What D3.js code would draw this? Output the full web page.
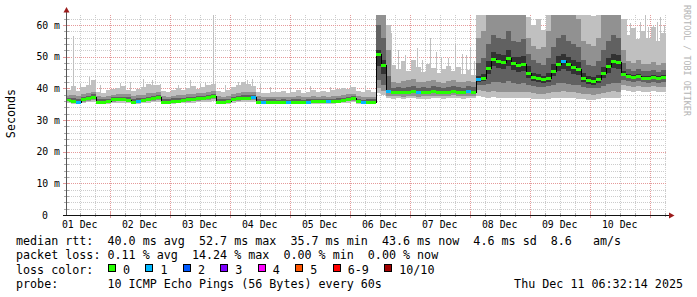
<!DOCTYPE html>
<html><head><meta charset="utf-8">
<script src="https://cdn.jsdelivr.net/npm/d3@7"></script>
<style>
html,body{margin:0;padding:0;background:#fff;}
svg{display:block;}
text{font-family:"DejaVu Sans Mono",monospace;white-space:pre;}
</style></head><body>
<svg id="chart" width="697" height="297"></svg>
<script>
// ---- data ----
const startTime = Date.UTC(2025, 11, 1, 6, 32, 14);
const endTime = Date.UTC(2025, 11, 11, 6, 32, 14);
const stepHours = 2;
const med = [
36.2,36.0,35.7,36.6,37.0,37.4,35.8,35.8,35.9,36.5,
36.6,36.6,36.4,35.8,36.0,36.3,36.6,36.8,37.3,35.8,
35.8,36.0,36.1,36.3,36.5,36.7,36.8,37.0,37.2,37.6,
35.8,35.8,35.9,36.6,36.8,37.0,37.0,37.3,35.7,35.7,
35.8,35.8,35.7,35.8,35.7,35.8,35.8,35.7,35.8,35.9,
35.9,36.0,35.9,35.9,36.1,36.2,36.6,36.8,35.9,35.7,
35.8,35.8,51.0,47.5,39.3,38.8,38.9,38.7,39.0,39.1,
38.7,38.9,38.8,39.2,38.9,38.8,39.0,39.3,39.0,38.8,
39.2,39.0,42.8,43.2,46.5,49.3,48.6,48.3,49.5,48.0,
47.4,47.8,45.0,43.6,43.2,42.8,43.4,45.6,47.8,48.5,
47.6,46.6,46.2,43.4,42.6,42.3,42.8,44.8,47.2,48.6,
48.3,44.6,43.8,43.5,43.9,43.4,43.3,43.7,43.2,43.6];
const loss = [
0,0,1,0,0,0,0,0,0,0, 0,0,0,0,1,0,0,0,0,0, 0,0,0,0,0,0,0,0,0,0,
0,0,0,0,0,0,0,1,0,1, 0,0,0,0,1,0,0,0,1,0, 0,0,1,0,0,0,0,0,0,1,
0,0,0,0,1,0,0,0,0,0, 1,0,0,0,0,0,0,0,0,0, 1,0,1,0,0,0,0,0,0,0,
0,0,0,0,0,0,0,0,0,1, 0,0,0,0,0,0,0,0,0,0, 0,0,0,0,0,0,0,0,0,0];
// sorted pings (rank 2 .. rank 9) per step, ms
const q1 = [
35.3,35.2,35.0,35.4,35.6,35.8,35.1,35.1,35.2,35.4,
35.5,35.5,35.4,35.1,35.2,35.3,35.5,35.6,35.8,35.1,
35.1,35.2,35.3,35.3,35.4,35.5,35.6,35.7,35.8,35.9,
35.1,35.1,35.2,35.5,35.6,35.7,35.7,35.8,35.0,35.0,
35.1,35.1,35.0,35.1,35.0,35.1,35.1,35.0,35.1,35.2,
35.2,35.2,35.2,35.2,35.3,35.3,35.5,35.6,35.2,35.0,
35.1,35.1,38.5,38.0,36.8,36.7,36.8,36.6,36.8,36.9,
36.6,36.7,36.7,36.9,36.8,36.7,36.8,37.0,36.8,36.7,
36.9,36.8,37.5,37.3,37.0,37.2,37.0,36.9,37.1,36.8,
36.9,37.0,36.9,36.7,36.6,36.5,36.7,36.9,37.0,37.1,
37.0,36.8,36.7,36.5,36.4,36.3,36.5,36.8,37.0,37.1,
37.1,39.5,39.2,39.0,39.2,39.0,38.9,39.1,38.9,39.0];
const q2 = [
35.6,35.5,35.3,35.8,36.1,36.4,35.4,35.4,35.5,35.8,
35.9,35.9,35.8,35.4,35.5,35.7,35.9,36.0,36.3,35.4,
35.4,35.5,35.6,35.7,35.8,36.0,36.0,36.2,36.3,36.5,
35.4,35.4,35.5,35.9,36.0,36.2,36.2,36.4,35.3,35.3,
35.4,35.4,35.3,35.4,35.3,35.4,35.4,35.3,35.4,35.5,
35.5,35.5,35.5,35.5,35.6,35.7,35.9,36.0,35.5,35.3,
35.4,35.4,40.0,39.2,37.6,37.5,37.6,37.4,37.6,37.7,
37.4,37.5,37.5,37.7,37.6,37.5,37.6,37.8,37.6,37.5,
37.7,37.6,39.5,39.2,39.0,39.2,39.0,38.8,39.0,38.7,
38.8,38.9,38.7,38.5,38.3,38.2,38.5,38.8,39.0,39.1,
38.9,38.7,38.6,38.3,38.1,38.0,38.2,38.6,38.9,39.1,
39.0,41.0,40.6,40.5,40.7,40.4,40.3,40.6,40.3,40.5];
const q3 = [
35.9,35.7,35.5,36.2,36.6,37.0,35.6,35.6,35.7,36.2,
36.3,36.3,36.1,35.6,35.7,36.0,36.3,36.5,36.9,35.6,
35.6,35.7,35.8,36.0,36.2,36.4,36.5,36.7,36.8,37.1,
35.6,35.6,35.7,36.3,36.5,36.7,36.7,36.9,35.5,35.5,
35.6,35.6,35.5,35.6,35.5,35.6,35.6,35.5,35.6,35.7,
35.7,35.8,35.7,35.7,35.9,35.9,36.3,36.5,35.7,35.5,
35.6,35.6,42.5,41.0,38.4,38.2,38.3,38.1,38.3,38.4,
38.1,38.2,38.2,38.4,38.3,38.2,38.3,38.5,38.3,38.2,
38.4,38.3,41.0,41.0,41.5,42.0,42.0,41.8,42.2,41.6,
41.5,41.6,41.0,40.6,40.4,40.3,40.6,41.2,41.6,41.8,
41.5,41.2,41.0,40.4,40.1,40.0,40.2,40.8,41.4,41.8,
41.7,42.5,42.2,42.0,42.3,41.9,41.8,42.1,41.8,42.0];
const q4 = [
36.1,35.9,35.6,36.5,36.9,37.3,35.7,35.7,35.8,36.4,
36.5,36.5,36.3,35.7,35.9,36.2,36.5,36.7,37.2,35.7,
35.7,35.9,36.0,36.2,36.4,36.6,36.7,36.9,37.1,37.5,
35.7,35.7,35.8,36.5,36.7,36.9,36.9,37.2,35.6,35.6,
35.7,35.7,35.6,35.7,35.6,35.7,35.7,35.6,35.7,35.8,
35.8,35.9,35.8,35.8,36.0,36.1,36.5,36.7,35.8,35.6,
35.7,35.7,47.0,44.5,39.1,38.6,38.7,38.5,38.8,38.9,
38.5,38.7,38.6,39.0,38.7,38.6,38.8,39.1,38.8,38.6,
39.0,38.8,42.0,42.3,44.5,47.0,46.5,46.0,47.2,45.8,
45.2,45.5,43.2,42.2,41.9,41.6,42.0,43.8,45.6,46.2,
45.4,44.6,44.2,42.0,41.4,41.2,41.6,43.2,45.0,46.4,
46.0,43.8,43.3,43.0,43.4,42.9,42.8,43.2,42.7,43.1];
const q5 = [
36.4,36.2,36.0,36.8,37.2,37.6,36.0,36.0,36.1,36.7,
36.8,36.8,36.6,36.0,36.2,36.5,36.8,37.0,37.5,36.0,
36.0,36.2,36.3,36.5,36.7,36.9,37.0,37.2,37.4,37.8,
36.0,36.0,36.1,36.8,37.0,37.2,37.2,37.5,35.9,35.8,
36.0,36.0,35.9,36.0,35.9,36.0,36.0,35.9,36.0,36.1,
36.1,36.2,36.1,36.1,36.3,36.4,36.8,37.0,36.1,35.9,
36.0,36.0,52.0,49.0,39.6,39.1,39.2,39.0,39.3,39.4,
39.0,39.2,39.1,39.5,39.2,39.1,39.3,39.6,39.3,39.1,
39.5,39.3,43.8,44.5,48.5,51.5,51.0,50.5,52.0,50.0,
49.8,50.2,47.0,45.0,44.5,44.0,45.0,47.8,50.2,51.0,
49.8,48.8,48.2,45.0,43.8,43.5,44.2,46.8,49.5,51.0,
50.6,45.5,44.4,44.1,44.5,44.0,43.9,44.3,43.8,44.2];
const q6 = [
36.9,36.8,36.6,37.3,37.7,38.1,36.7,36.5,36.7,37.2,
37.3,37.4,37.2,36.6,36.8,37.1,37.4,37.6,38.0,36.6,
36.5,36.8,36.9,37.0,37.2,37.4,37.5,37.7,37.9,38.3,
36.6,36.5,36.7,37.3,37.6,37.8,37.8,38.0,36.5,36.3,
36.5,36.5,36.4,36.5,36.4,36.5,36.6,36.4,36.5,36.6,
36.6,36.7,36.6,36.6,36.8,36.9,37.3,37.5,36.6,36.4,
36.5,36.5,60.0,56.0,44.0,40.2,40.3,40.1,40.4,40.6,
40.2,40.3,40.2,40.6,40.3,40.2,40.4,40.7,40.4,40.2,
40.6,40.4,48.0,49.5,54.0,57.0,56.0,55.5,58.0,55.0,
54.5,55.5,51.0,49.0,48.0,47.5,49.5,53.0,56.0,57.0,
55.0,54.0,53.0,49.0,47.5,47.0,48.5,52.0,55.0,57.0,
56.0,48.0,46.0,45.6,46.0,45.5,45.4,45.8,45.2,45.7];
const q7 = [
37.8,37.9,37.6,38.2,38.5,38.9,37.6,37.4,37.7,38.0,
38.2,38.3,38.1,37.6,37.8,38.0,38.4,38.6,38.9,37.5,
37.3,37.7,37.9,37.9,38.1,38.3,38.4,38.5,38.8,39.2,
37.6,37.4,37.6,38.2,38.6,38.8,38.9,39.0,37.5,37.2,
37.3,37.4,37.3,37.4,37.3,37.3,37.5,37.2,37.3,37.5,
37.4,37.6,37.4,37.5,37.7,37.8,38.1,38.3,37.5,37.3,
37.4,37.3,68.0,64.0,52.0,42.0,41.8,42.2,42.5,42.8,
42.0,41.9,42.3,42.6,42.1,41.8,42.4,42.7,42.0,41.9,
42.2,42.0,56.0,58.0,65.0,66.0,65.0,66.0,67.0,64.5,
64.0,65.0,56.0,53.5,52.5,53.0,58.0,64.0,66.0,67.0,
65.0,64.0,62.0,55.0,54.0,53.5,56.0,64.0,66.0,67.0,
66.0,52.0,48.5,48.0,48.8,47.6,47.8,48.2,47.5,48.0];
const q8 = [
39.5,40.8,39.2,40.5,41.0,42.5,39.0,38.6,39.4,39.8,
40.2,40.6,39.6,39.1,39.8,40.4,41.5,40.9,41.2,39.3,
38.8,39.6,40.2,39.5,40.0,40.6,39.9,40.3,41.0,41.5,
39.2,38.7,39.4,40.3,41.2,42.0,41.4,40.8,39.0,38.6,
38.5,39.0,38.7,39.2,38.6,38.9,39.5,38.4,38.8,39.6,
39.0,39.3,38.8,39.4,39.7,40.1,39.8,40.4,39.2,38.9,
39.5,38.8,75.0,72.0,60.0,47.5,46.0,48.5,45.5,49.0,
46.8,45.2,47.8,46.5,44.8,46.2,47.0,45.6,46.8,44.6,
45.8,44.2,66.0,68.0,72.0,72.0,72.0,72.0,72.0,72.0,
70.0,72.0,62.5,60.0,62.0,58.5,66.0,70.0,72.0,72.0,
72.0,70.0,68.0,66.0,64.0,63.0,65.0,70.0,72.0,72.0,
72.0,62.0,57.0,59.0,55.5,58.0,56.0,59.5,55.0,57.5];
// single-sample spikes: [hours after start, ms]
const spikes = [
[2.8,56.5],[5.6,41.5],[9.2,43.5],[13.6,41.0],[21.6,41.8],[25.6,42.0],[30.8,43.0],[34.4,42.5],
[37.6,41.5],[44.8,41.0],[49.6,42.5],[53.6,41.5],[55.6,42.0],[58.8,64.0],[63.6,41.2],[68.8,42.0],
[72.4,42.5],[74.4,43.0],[77.6,41.5],[81.6,40.5],[89.6,40.5],[97.6,40.8],[105.6,40.5],[113.6,41.2],
[119.6,40.8],[130.0,57.5],[132.8,52.0],[135.6,50.5],[140.4,52.7],[142.4,49.0],[145.6,56.0],[148.0,51.5],
[150.0,50.0],[152.8,49.5],[155.6,54.0],[158.4,51.0],[160.0,50.5],[161.6,53.0],[163.2,48.5],
[224.0,62.0],[225.6,60.5],[229.6,61.0],[231.6,63.5],[232.8,59.5],[234.8,60.0],[236.4,61.0],
[237.6,62.5],[239.2,60.0]];
const yTicks = [0, 10, 20, 30, 40, 50, 60];
const yTickLabels = ["0", "10 m", "20 m", "30 m", "40 m", "50 m", "60 m"];
const xTickLabels = ["01 Dec","02 Dec","03 Dec","04 Dec","05 Dec","06 Dec","07 Dec","08 Dec","09 Dec","10 Dec"];
const lossLabels = ["0","1","2","3","4","5","6-9","10/10"];
const lossColors = ["#26ff00","#00b8ff","#0059ff","#7e00ff","#ff00ff","#ff5500","#ff0000","#a10000"];
const legendRtt = "median rtt:  40.0 ms avg  52.7 ms max  35.7 ms min  43.6 ms now  4.6 ms sd  8.6   am/s";
const legendLoss = "packet loss: 0.11 % avg  14.24 % max  0.00 % min  0.00 % now";
const legendColor = "loss color:";
const legendProbe = "probe:       10 ICMP Echo Pings (56 Bytes) every 60s";
const stampText = "Thu Dec 11 06:32:14 2025";
const yTitle = "Seconds";
const sideText = "RRDTOOL / TOBI OETIKER";

// ---- drawing ----
const svg = d3.select("#chart");
svg.append("rect").attr("width", 697).attr("height", 297).attr("fill", "#fff");
const x = d3.scaleUtc().domain([new Date(startTime), new Date(endTime)]).range([66, 666]);
const y = d3.scaleLinear().domain([0, 63.16]).range([215, 15]);
const tAt = i => new Date(startTime + i * stepHours * 3600e3);
const n = med.length;

svg.append("defs").append("clipPath").attr("id", "plot")
  .append("rect").attr("x", 66).attr("y", 15).attr("width", 600).attr("height", 200);

// grid
const grid = svg.append("g").attr("shape-rendering", "crispEdges").attr("stroke-width", 1).attr("stroke-dasharray", "1,1");
const minorCol = "#cccccc", majorCol = "#e59a9a";
d3.range(2, 63, 2).filter(v => v % 10 !== 0).forEach(v => {
  const yy = Math.round(y(v)) + 0.5;
  grid.append("line").attr("x1", 67).attr("x2", 666).attr("y1", yy).attr("y2", yy).attr("stroke", minorCol);
});
const t0 = new Date(startTime), t1 = new Date(endTime);
d3.utcHour.every(6).range(t0, t1).filter(d => d.getUTCHours() !== 0).forEach(d => {
  const xx = Math.round(x(d)) + 0.5;
  grid.append("line").attr("x1", xx).attr("x2", xx).attr("y1", 15).attr("y2", 215).attr("stroke", minorCol);
});
yTicks.filter(v => v > 0).forEach(v => {
  const yy = Math.round(y(v)) + 0.5;
  grid.append("line").attr("x1", 67).attr("x2", 666).attr("y1", yy).attr("y2", yy).attr("stroke", majorCol);
});
d3.utcDay.range(t0, t1).forEach(d => {
  const xx = Math.round(x(d)) + 0.5;
  grid.append("line").attr("x1", xx).attr("x2", xx).attr("y1", 15).attr("y2", 215).attr("stroke", majorCol);
});

// smoke
const plot = svg.append("g").attr("clip-path", "url(#plot)").attr("shape-rendering", "crispEdges");
const idx = d3.range(n + 1);
const bands = [[q1, q8, "#c0c0c0"], [q2, q7, "#919191"], [q3, q6, "#616161"], [q4, q5, "#323232"]];
// thin spikes (behind the bands)
spikes.forEach(([h, v]) => {
  const i = Math.min(n - 1, Math.floor(h / stepHours));
  const xx = Math.round(x(new Date(startTime + h * 3600e3))) + 0.5;
  plot.append("line").attr("x1", xx).attr("x2", xx).attr("y1", y(q7[i])).attr("y2", y(v))
    .attr("stroke", "#c0c0c0").attr("stroke-width", 1);
});
bands.forEach(([lo, hi, col]) => {
  const area = d3.area().curve(d3.curveStepAfter)
    .x(i => Math.round(x(tAt(i))))
    .y0(i => y(lo[Math.min(i, n - 1)]))
    .y1(i => y(hi[Math.min(i, n - 1)]));
  plot.append("path").datum(idx).attr("d", area).attr("fill", col);
});
// median line + loss colour marks
const medLine = d3.line().curve(d3.curveStepAfter)
  .x(i => Math.round(x(tAt(i))))
  .y(i => Math.round(y(med[Math.min(i, n - 1)])) + 0.5);
plot.append("path").datum(idx).attr("d", medLine).attr("fill", "none").attr("stroke", "#000").attr("stroke-width", 1);
med.forEach((m, i) => {
  const xa = Math.round(x(tAt(i))), xb = Math.round(x(tAt(i + 1)));
  plot.append("rect").attr("x", xa).attr("width", xb - xa)
    .attr("y", Math.round(y(m)) - 1).attr("height", 3).attr("fill", lossColors[loss[i]]);
});

// axes
const ax = svg.append("g").attr("shape-rendering", "crispEdges");
yTicks.forEach(v => {
  const yy = Math.round(y(v)) + 0.5;
  ax.append("line").attr("x1", 63).attr("x2", 70).attr("y1", yy).attr("y2", yy).attr("stroke", v === 0 ? "#000" : majorCol);
});
d3.range(2, 63, 2).filter(v => v % 10 !== 0).forEach(v => {
  const yy = Math.round(y(v)) + 0.5;
  ax.append("line").attr("x1", 64).attr("x2", 69).attr("y1", yy).attr("y2", yy).attr("stroke", "#aaaaaa");
});
d3.utcHour.every(6).range(t0, t1).forEach(d => {
  const xx = Math.round(x(d)) + 0.5;
  const major = d.getUTCHours() === 0;
  ax.append("line").attr("x1", xx).attr("x2", xx).attr("y1", major ? 212 : 213).attr("y2", major ? 218 : 217)
    .attr("stroke", major ? majorCol : "#aaaaaa");
});
ax.append("line").attr("x1", 66.5).attr("x2", 66.5).attr("y1", 215).attr("y2", 12).attr("stroke", "#555");
ax.append("line").attr("x1", 63).attr("x2", 669).attr("y1", 215.5).attr("y2", 215.5).attr("stroke", "#111");
svg.append("path").attr("d", "M63.5,12.5L69.5,12.5L66.5,7Z").attr("fill", "#9b1b1b");
svg.append("path").attr("d", "M669,212.5L669,218.5L674.5,215.5Z").attr("fill", "#9b1b1b");

// tick labels
const tickFont = "9.8px";
yTicks.forEach((v, k) => {
  svg.append("text").attr("x", v === 0 ? 48 : 60).attr("y", y(v) + 3.6)
    .attr("text-anchor", "end").attr("font-size", tickFont).attr("fill", "#000").text(yTickLabels[k]);
});
const noon0 = d3.utcHour.offset(d3.utcDay.floor(t0), 12);
xTickLabels.forEach((lab, k) => {
  svg.append("text").attr("x", x(d3.utcDay.offset(noon0, k))).attr("y", 228)
    .attr("text-anchor", "middle").attr("font-size", tickFont).attr("fill", "#000").text(lab);
});

// titles
svg.append("text").attr("transform", "translate(15,113.5) rotate(-90)").attr("text-anchor", "middle")
  .attr("font-size", "11.7px").attr("fill", "#000").text(yTitle);
svg.append("text").attr("transform", "translate(684,5) rotate(90)").attr("text-anchor", "start")
  .attr("font-size", "8.4px").attr("fill", "#b4b4b4").text(sideText);

// legend
const lf = "11.7px";
const lx = 16;
[[legendRtt, 244.5], [legendLoss, 259], [legendColor, 273.5], [legendProbe, 288]].forEach(([s, yy]) => {
  svg.append("text").attr("x", lx).attr("y", yy).attr("font-size", lf).attr("fill", "#000").text(s);
});
const cw = 7.05;
let bx = 108;
lossLabels.forEach((lab, k) => {
  svg.append("rect").attr("x", bx + 0.5).attr("y", 264.5).attr("width", 7).attr("height", 7)
    .attr("fill", lossColors[k]).attr("stroke", "#000").attr("stroke-width", 1).attr("shape-rendering", "crispEdges");
  svg.append("text").attr("x", bx + 15).attr("y", 273.5).attr("font-size", lf).attr("fill", "#000").text(lab);
  bx += 15 + lab.length * cw + 15.4;
});
svg.append("text").attr("x", 683).attr("y", 288).attr("text-anchor", "end").attr("font-size", lf).attr("fill", "#000").text(stampText);
</script>
</body></html>
